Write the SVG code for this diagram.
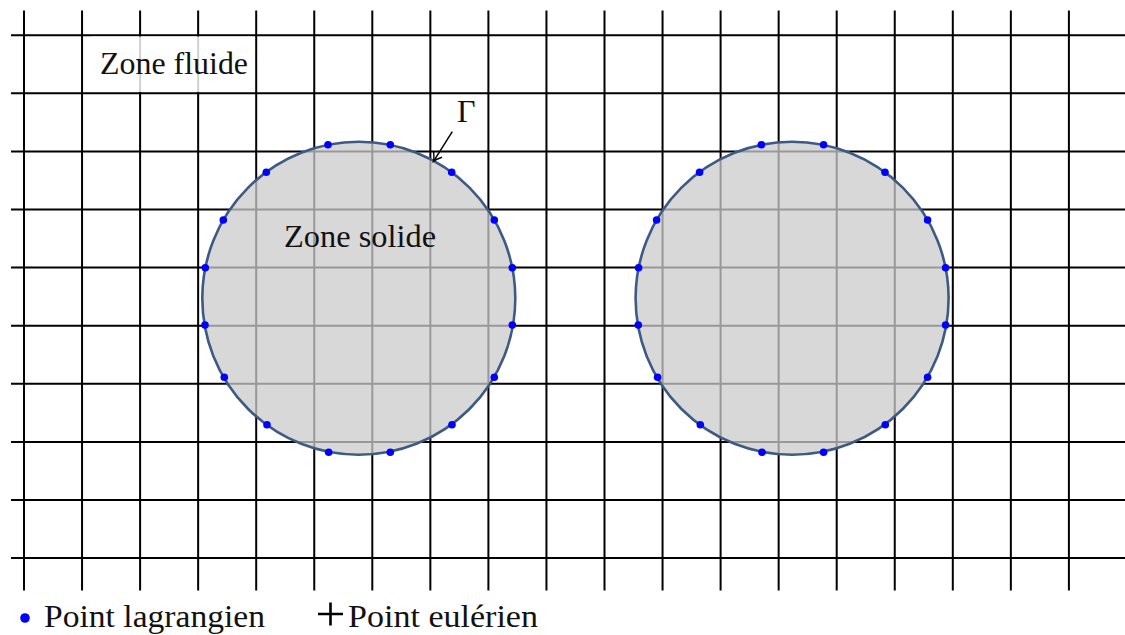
<svg xmlns="http://www.w3.org/2000/svg" width="1125" height="635" viewBox="0 0 1125 635">
<style>
.grid{stroke:#000;stroke-width:2;fill:none}
.disk{fill:#cbcbcb;fill-opacity:0.75;stroke:#3d5a85;stroke-width:2.6}
.lp{fill:#0000ff}
</style>
<defs>
<marker id="arr" markerUnits="userSpaceOnUse" markerWidth="14" markerHeight="14" viewBox="-10 -7 12 14" refX="0" refY="0" orient="auto">
<path d="M-8,-5 Q-3,-1 0,0 Q-3,1 -8,5" fill="none" stroke="#000" stroke-width="1.4"/>
</marker>
</defs>
<rect width="1125" height="635" fill="#fff"/>
<g id="grid" class="grid">
<path d="M24,10.5V590.5M82.05,10.5V590.5M140.1,10.5V590.5M198.15,10.5V590.5M256.2,10.5V590.5M314.25,10.5V590.5M372.3,10.5V590.5M430.35,10.5V590.5M488.4,10.5V590.5M546.45,10.5V590.5M604.5,10.5V590.5M662.55,10.5V590.5M720.6,10.5V590.5M778.65,10.5V590.5M836.7,10.5V590.5M894.75,10.5V590.5M952.8,10.5V590.5M1010.85,10.5V590.5M1068.9,10.5V590.5"/>
<path d="M11,35.2H1125M11,93.3H1125M11,151.4H1125M11,209.5H1125M11,267.6H1125M11,325.7H1125M11,383.8H1125M11,441.9H1125M11,500H1125M11,558.1H1125"/>
</g>
<g font-family="'Liberation Serif', 'DejaVu Serif', 'Noto Serif', Tinos, 'Nimbus Roman', 'Nimbus Roman No9 L', FreeSerif, 'Times New Roman', Times, Georgia, 'Noto Serif CJK SC', serif" font-size="32" fill="#111">
<g id="fluid-label">
<rect x="91" y="36.5" width="162" height="55.5" fill="#fff" fill-opacity="0.82"/>
<text x="100" y="74" textLength="148" lengthAdjust="spacingAndGlyphs">Zone fluide</text>
</g>
<g id="solid1">
<circle class="disk" cx="358.8" cy="298.3" r="156.5"/>
<g class="lp">
<circle cx="328" cy="144.7" r="3.8"/><circle cx="390.3" cy="144.7" r="3.8"/>
<circle cx="266.3" cy="172.3" r="3.8"/><circle cx="451.7" cy="172.3" r="3.8"/>
<circle cx="223.3" cy="220" r="3.8"/><circle cx="494.3" cy="220" r="3.8"/>
<circle cx="205.3" cy="267.7" r="3.8"/><circle cx="512.3" cy="267.7" r="3.8"/>
<circle cx="205" cy="325" r="3.8"/><circle cx="512.3" cy="325" r="3.8"/>
<circle cx="224.3" cy="377.3" r="3.8"/><circle cx="494.3" cy="377.3" r="3.8"/>
<circle cx="267" cy="424.7" r="3.8"/><circle cx="452" cy="424.7" r="3.8"/>
<circle cx="328.7" cy="452.3" r="3.8"/><circle cx="390.3" cy="452.3" r="3.8"/>
</g>
<text x="284" y="246.7" textLength="152" lengthAdjust="spacingAndGlyphs">Zone solide</text>
</g>
<g id="solid2">
<circle class="disk" cx="792.1" cy="298.3" r="156.5"/>
<g class="lp">
<circle cx="761.3" cy="144.7" r="3.8"/><circle cx="823.6" cy="144.7" r="3.8"/>
<circle cx="699.6" cy="172.3" r="3.8"/><circle cx="885" cy="172.3" r="3.8"/>
<circle cx="656.6" cy="220" r="3.8"/><circle cx="927.6" cy="220" r="3.8"/>
<circle cx="638.6" cy="267.7" r="3.8"/><circle cx="945.6" cy="267.7" r="3.8"/>
<circle cx="638.3" cy="325" r="3.8"/><circle cx="945.6" cy="325" r="3.8"/>
<circle cx="657.6" cy="377.3" r="3.8"/><circle cx="927.6" cy="377.3" r="3.8"/>
<circle cx="700.3" cy="424.7" r="3.8"/><circle cx="885.3" cy="424.7" r="3.8"/>
<circle cx="762" cy="452.3" r="3.8"/><circle cx="823.6" cy="452.3" r="3.8"/>
</g>
</g>
<g id="gamma-label">
<text x="457" y="122.3">Γ</text>
</g>
<g id="connectors">
<line x1="452.3" y1="131.7" x2="433.5" y2="161.3" stroke="#000" stroke-width="1.5" marker-end="url(#arr)"/>
</g>
<g id="legend">
<circle cx="25" cy="618" r="4.8" fill="#0000ff"/>
<text x="44" y="627" textLength="221" lengthAdjust="spacingAndGlyphs">Point lagrangien</text>
<path d="M318,614H343M330.5,602.5V625.5" stroke="#000" stroke-width="2.6" fill="none"/>
<text x="348" y="627" textLength="190" lengthAdjust="spacingAndGlyphs">Point eulérien</text>
</g>
</g>
</svg>
